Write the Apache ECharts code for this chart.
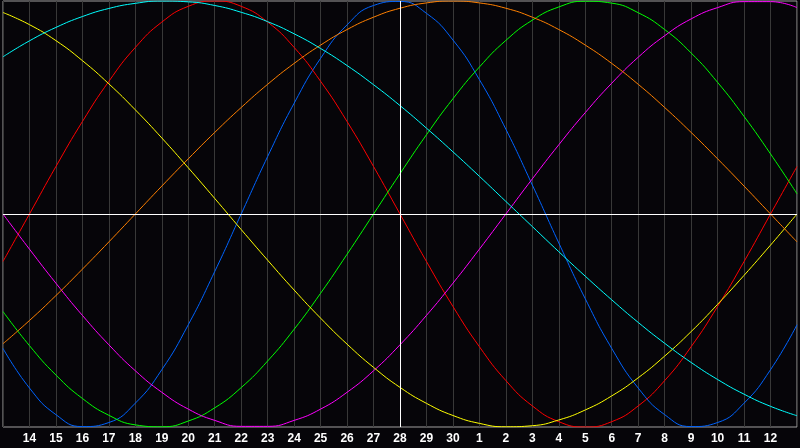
<!DOCTYPE html>
<html>
<head>
<meta charset="utf-8">
<script src="https://cdn.jsdelivr.net/npm/echarts@6/dist/echarts.min.js"></script>
<style>
html,body{margin:0;padding:0;background:#060509;}
#chart{width:800px;height:448px;}
</style>
</head>
<body>
<div id="chart"></div>
<script>
// Day labels (x axis), from day 13 to day 13 of the next month
const days = [13,14,15,16,17,18,19,20,21,22,23,24,25,26,27,28,29,30,1,2,3,4,5,6,7,8,9,10,11,12,13];

// Cycle values (-100..100) read at each day
const physical = [-63.1,-81.7,-94.2,-99.8,-97.9,-88.8,-73.1,-52.0,-27.0,0,27.0,52.0,73.1,88.8,97.9,99.8,94.2,81.7,63.1,39.8,13.6,-13.6,-39.8,-63.1,-81.7,-94.2,-99.8,-97.9,-88.8,-73.1,-52.0];
const emotional = [-22.3,0,22.3,43.4,62.3,78.2,90.1,97.5,100,97.5,90.1,78.2,62.3,43.4,22.3,0,-22.3,-43.4,-62.3,-78.2,-90.1,-97.5,-100,-97.5,-90.1,-78.2,-62.3,-43.4,-22.3,0,22.3];
const intellectual = [-45.8,-61.8,-75.6,-86.6,-94.5,-99.0,-99.9,-97.2,-91.0,-81.5,-69.0,-54.1,-37.2,-18.9,0,18.9,37.2,54.1,69.0,81.5,91.0,97.2,99.9,99.0,94.5,86.6,75.6,61.8,45.8,28.2,9.5];
const intuitive = [0,-16.5,-32.5,-47.6,-61.4,-73.6,-83.7,-91.6,-96.9,-99.7,-99.7,-96.9,-91.6,-83.7,-73.6,-61.4,-47.6,-32.5,-16.5,0,16.5,32.5,47.6,61.4,73.6,83.7,91.6,96.9,99.7,99.7,96.9];
const aesthetic = [94.6,88.9,81.4,72.0,61.1,48.9,35.7,21.7,7.3,-7.3,-21.7,-35.7,-48.9,-61.1,-72.0,-81.4,-88.9,-94.6,-98.3,-99.9,-99.4,-96.7,-92.0,-85.4,-76.9,-66.7,-55.2,-42.4,-28.8,-14.6,0];
const awareness = [-60.9,-50.0,-38.3,-25.9,-13.1,0,13.1,25.9,38.3,50.0,60.9,70.7,79.3,86.6,92.4,96.6,99.1,100,99.1,96.6,92.4,86.6,79.3,70.7,60.9,50.0,38.3,25.9,13.1,0,-13.1];
const spiritual = [73.8,81.3,87.6,92.7,96.5,98.9,100.0,99.6,97.9,94.7,90.3,84.6,77.7,69.7,60.7,50.9,40.3,29.2,17.7,5.9,-5.9,-17.7,-29.2,-40.3,-50.9,-60.7,-69.7,-77.7,-84.6,-90.3,-94.7];

const todayIndex = 15;

const chart = echarts.init(document.getElementById('chart'), null, {renderer: 'canvas'});

function lineSeries(name, data, color) {
  return {
    name: name, type: 'line', data: data, smooth: true, symbol: 'none',
    lineStyle: {color: color, width: 1}, itemStyle: {color: color}, silent: true
  };
}

chart.setOption({
  animation: false,
  backgroundColor: '#060509',
  grid: {left: 1, right: 1, top: 1, bottom: 21, show: true, borderColor: '#a0a0a0', borderWidth: 1, backgroundColor: 'transparent'},
  xAxis: {
    type: 'category', data: days, boundaryGap: false,
    axisLine: {show: false}, axisTick: {show: false},
    axisLabel: {
      interval: 0, color: '#ffffff', fontFamily: 'Liberation Sans', fontWeight: 'bold', fontSize: 12, margin: 6,
      formatter: function (v, i) { return (i === 0 || i === days.length - 1) ? '' : v; }
    },
    splitLine: {show: true, interval: 0, lineStyle: {color: '#383838', width: 1}}
  },
  yAxis: {type: 'value', min: -100, max: 100, show: false, splitLine: {show: false}},
  series: [
    lineSeries('Physical', physical, '#0064ff'),
    lineSeries('Emotional', emotional, '#ff0000'),
    lineSeries('Intellectual', intellectual, '#00ff00'),
    lineSeries('Intuitive', intuitive, '#ff00ff'),
    lineSeries('Aesthetic', aesthetic, '#ffff00'),
    lineSeries('Awareness', awareness, '#ff8000'),
    lineSeries('Spiritual', spiritual, '#00ffff'),
    {
      type: 'line', data: [], z: 10, silent: true,
      markLine: {
        silent: true, symbol: 'none', label: {show: false}, animation: false,
        lineStyle: {color: '#ffffff', width: 1, type: 'solid'},
        data: [{xAxis: todayIndex}, {yAxis: 0}]
      }
    }
  ]
});
</script>
</body>
</html>
